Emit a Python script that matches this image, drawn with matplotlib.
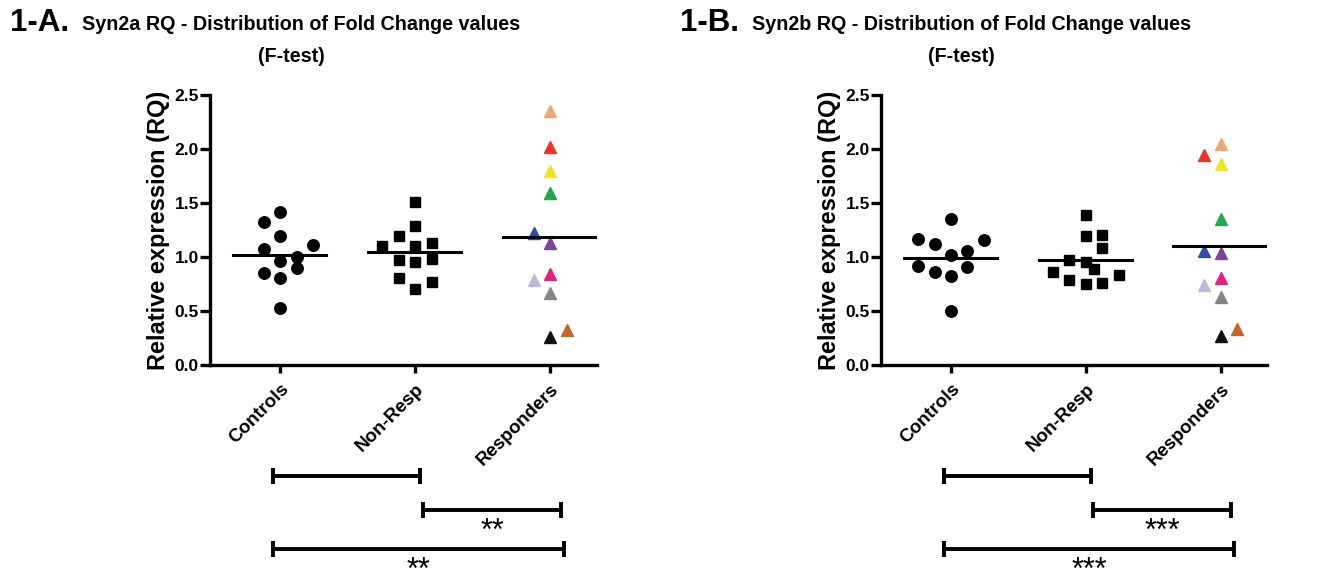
import numpy as np
import matplotlib.pyplot as plt

# groups and values
groups = ["Controls", "Non-Resp", "Responders"]

syn2a_controls = [1.42, 1.32, 1.19, 1.11, 1.07, 1.00, 0.96, 0.855, 0.90, 0.81, 0.53]
syn2a_nonresp = [1.51, 1.29, 1.19, 1.13, 1.105, 1.105, 0.97, 0.98, 0.95, 0.81, 0.77, 0.70]
syn2a_resp = [2.355, 2.02, 1.80, 1.59, 1.22, 1.13, 0.84, 0.79, 0.67, 0.32, 0.26]

syn2b_controls = [1.348, 1.17, 1.12, 1.16, 1.02, 1.06, 0.92, 0.91, 0.86, 0.82, 0.50]
syn2b_nonresp = [1.39, 1.19, 1.20, 1.08, 0.97, 0.95, 0.89, 0.86, 0.83, 0.79, 0.75, 0.76]
syn2b_resp = [2.05, 1.94, 1.86, 1.35, 1.06, 1.04, 0.81, 0.74, 0.63, 0.33, 0.27]

# scatter spread (in units of one marker step)
syn2a_spread = [
    [0, -1, 0, 2, -1, 1, 0, -1, 1, 0, 0],
    [0, 0, -1, 1, -2, 0, -1, 1, 0, -1, 1, 0],
    [0, 0, 0, 0, -1, 0, 0, -1, 0, 1, 0],
]
syn2b_spread = [
    [0, -2, -1, 2, 0, 1, -2, 1, -1, 0, 0],
    [0, 0, 1, 1, -1, 0, 0.5, -2, 2, -1, 0, 1],
    [0, -1, 0, 0, -1, 0, 0, -1, 0, 1, 0],
]

# one colour per responder patient (same order in both panels)
resp_colors = ["#E9A878", "#E8352C", "#F2E32A", "#22A84A", "#2E4FA3", "#7B45A0",
               "#E3217E", "#B9BBDB", "#858585", "#C4652C", "#111111"]

# F-test comparisons: (group a, group b, label)
syn2a_tests = [(0, 1, ""), (1, 2, "**"), (0, 2, "**")]
syn2b_tests = [(0, 1, ""), (1, 2, "***"), (0, 2, "***")]

title_lines = [("Syn2a RQ - Distribution of Fold Change values", "(F-test)"),
               ("Syn2b RQ - Distribution of Fold Change values", "(F-test)")]
panel_tags = ["1-A.", "1-B."]

plt.rcParams['font.family'] = ['Liberation Sans', 'DejaVu Sans']

STEP = 0.122
LW = 2.4


def draw_panel(ax, data, spread, colors, tests):
    markers = ['o', 's', '^']
    sizes = [8.3, 7.6, 8.8]
    for i, vals in enumerate(data):
        xs = (i + 1) + np.array(spread[i]) * STEP
        if i < 2:
            ax.plot(xs, vals, linestyle='none', marker=markers[i], ms=sizes[i],
                    color='black', clip_on=False)
        else:
            for x, v, c in zip(xs, vals, colors):
                ax.plot(x, v, linestyle='none', marker='^', ms=sizes[i],
                        color=c, clip_on=False)
        m = np.mean(vals)
        ax.plot([i + 1 - 0.35, i + 1 + 0.34], [m, m], color='black', lw=2.2)

    ax.set_xlim(0.48, 3.345)
    ax.set_ylim(0, 2.5)
    ax.set_yticks(np.arange(0, 2.51, 0.5))
    ax.set_yticklabels(["%.1f" % t for t in np.arange(0, 2.51, 0.5)],
                       fontsize=12.5, fontweight='bold')
    ax.set_xticks([1, 2, 3])
    ax.set_xticklabels(groups, rotation=45, ha='right', rotation_mode='anchor',
                       fontsize=13.5, fontweight='bold')
    for s in ['top', 'right']:
        ax.spines[s].set_visible(False)
    for s in ['left', 'bottom']:
        ax.spines[s].set_linewidth(LW)
    ax.tick_params(axis='y', length=7, width=LW, pad=1)
    ax.tick_params(axis='x', length=6, width=LW, pad=5)
    ax.set_ylabel("Relative expression (RQ)", fontsize=17, fontweight='bold',
                  labelpad=3)

    # comparison brackets under the axis
    rows = [-1.03, -1.34, -1.70]
    for k, (a, b, lab) in enumerate(tests):
        x0 = a + 1 + (-0.054 if a == 0 else 0.057)
        x1 = b + 1 + (0.037 if k == 0 else 0.08 + 0.02 * (k - 1))
        y = rows[k]
        ax.plot([x0, x1], [y, y], color='black', lw=LW + 0.4, clip_on=False,
                solid_capstyle='butt')
        for xe in (x0, x1):
            ax.plot([xe, xe], [y - 0.075, y + 0.075], color='black', lw=LW + 0.4,
                    clip_on=False, solid_capstyle='butt')
        if lab:
            ax.text((x0 + x1) / 2, y - 0.21, lab, ha='center', va='center',
                    fontsize=22, clip_on=False)


fig = plt.figure(figsize=(13.4, 5.68), dpi=100)
axA = fig.add_axes([210 / 1340, 1 - 365 / 568, 387 / 1340, 270 / 568])
axB = fig.add_axes([881 / 1340, 1 - 365 / 568, 386 / 1340, 270 / 568])

draw_panel(axA, [syn2a_controls, syn2a_nonresp, syn2a_resp], syn2a_spread,
           resp_colors, syn2a_tests)
draw_panel(axB, [syn2b_controls, syn2b_nonresp, syn2b_resp], syn2b_spread,
           resp_colors, syn2b_tests)

for tag, (line1, line2), xl, xc1, xc2 in zip(panel_tags, title_lines, [10, 680],
                                            [301, 971], [291, 961]):
    fig.text(xl / 1340, 1 - 23 / 568, tag, fontsize=22.5, fontweight='bold',
             ha='left', va='center')
    fig.text(xc1 / 1340, 1 - 24 / 568, line1, fontsize=14.2, fontweight='bold',
             ha='center', va='center')
    fig.text(xc2 / 1340, 1 - 56 / 568, line2, fontsize=14.2, fontweight='bold',
             ha='center', va='center')

fig.savefig("out.png", dpi=100)
